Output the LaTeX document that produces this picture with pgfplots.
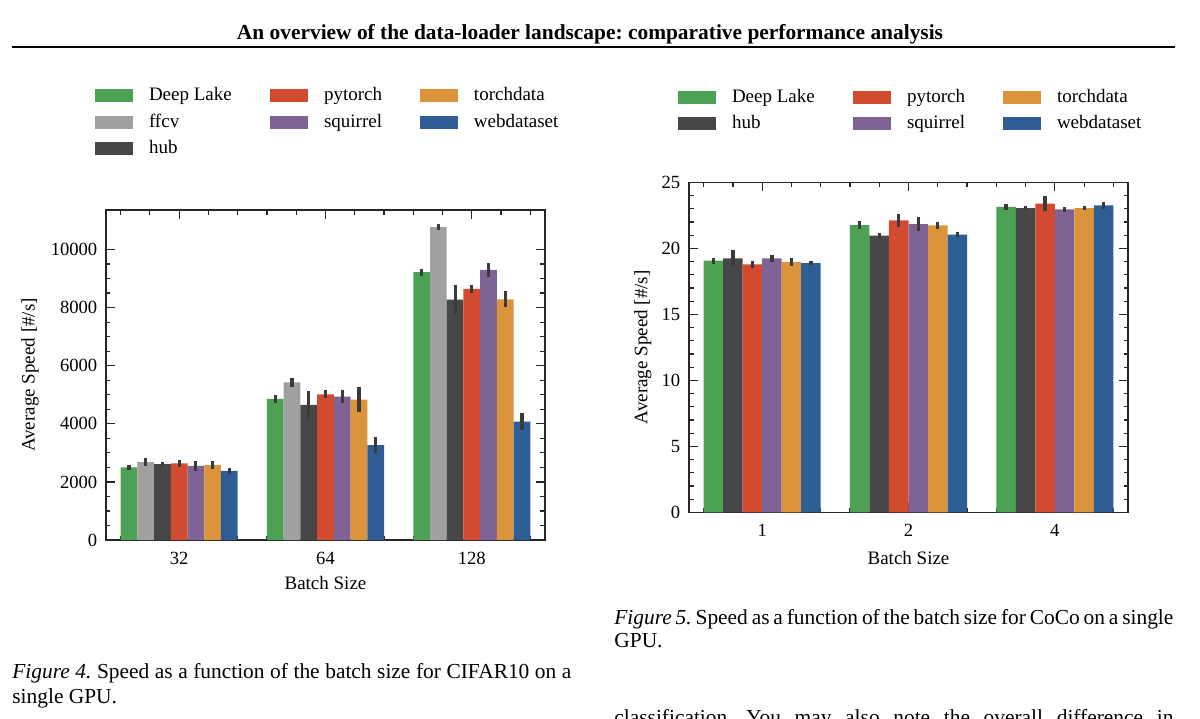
\documentclass[border=0pt]{standalone}
\usepackage{fontspec}
\setmainfont{Liberation Serif}
\usepackage{pgfplots}
\usepackage{pgfplotstable}
\pgfplotsset{compat=1.18}

\definecolor{cA}{HTML}{4CA155}
\definecolor{cB}{HTML}{A0A0A0}
\definecolor{cC}{HTML}{474747}
\definecolor{cD}{HTML}{D24A2F}
\definecolor{cE}{HTML}{7F6394}
\definecolor{cF}{HTML}{DB943B}
\definecolor{cG}{HTML}{2F5E94}
\definecolor{cErr}{HTML}{3A3A3A}

% CIFAR10: batch sizes 32, 64, 128 at x = 0, 1, 2
\pgfplotstableread{
x  dl    dle  ffcv   ffcve  hub   hube  pt    pte  sq    sqe  td    tde  wd    wde
0  2497  80   2680   126    2612  80    2635  115  2554  180  2577  137  2383  97
1  4857  143  5430   149    4651  481   5017  143  4937  229  4834  418  3265  269
2  9221  120  10768  103    8271  504   8649  132  9301  240  8282  275  4078  280
}\cifar

% CoCo: batch sizes 1, 2, 4 at x = 0, 1, 2
\pgfplotstableread{
x  dl     dle   hub    hube  pt     pte   sq     sqe   td     tde   wd     wde
0  19.06  0.24  19.24  0.60  18.78  0.24  19.24  0.25  18.98  0.30  18.88  0.15
1  21.76  0.32  20.97  0.18  22.11  0.52  21.83  0.53  21.73  0.28  21.04  0.18
2  23.13  0.23  23.05  0.13  23.38  0.58  22.95  0.20  23.05  0.18  23.26  0.25
}\coco

\newcommand\lblfont{\fontsize{9.5}{11}\selectfont}
\newcommand\capfont{\fontsize{10.7}{12.5}\selectfont}

\pgfplotsset{
  legend image code/.code={\fill[#1] (0pt,-3.25pt) rectangle (19pt,3.25pt);},
  mybar/.style={ybar, fill=#1, draw=none, forget plot},
  myerr/.style={draw=none, mark=none, forget plot,
    error bars/y dir=both, error bars/y explicit, error bars/error mark=none,
    error bars/error bar style={line width=1.6pt, draw=cErr, solid}},
  myaxis/.style={
    scale only axis, width=219.5pt, height=165pt,
    xmin=-0.5, xmax=2.5, ymin=0,
    xtick={0,1,2},
    minor xtick={-0.4,-0.2,0.2,0.4,0.6,0.8,1.2,1.4,1.6,1.8,2.2,2.4},
    tick align=inside, tick pos=both,
    major tick length=4.5pt, minor tick length=2.25pt,
    axis line style={line width=0.8pt, draw=black!85},
    every tick/.style={draw=black!85, line width=0.6pt},
    tick label style={font=\fontsize{9.3}{10}\selectfont},
    xticklabel style={yshift=-2.75pt},
    yticklabel style={xshift=-1pt, /pgf/number format/1000 sep={}},
    /pgf/number format/assume math mode=true,
    scaled y ticks=false,
    xlabel={Batch Size}, ylabel={Average Speed [\#/s]},
    legend style={draw=none, fill=none, inner sep=0pt, outer sep=0pt,
      anchor=north west, legend cell align=left,
      column sep=8pt, row sep=4.35pt,
      nodes={inner sep=0pt, text height=7pt, text depth=2pt,
             font=\lblfont}},
    legend columns=3,
  }
}

\begin{document}
\frenchspacing
\lblfont
\begin{tikzpicture}
\useasboundingbox (0,0) rectangle (600pt,-359pt);
\clip (0,0) rectangle (600pt,-359pt);

\node[anchor=base, font=\capfont\bfseries] at (295pt,-19.5pt)
  {An overview of the data-loader landscape: comparative performance analysis};
\draw[line width=1.3pt] (6pt,-23.5pt) -- (587.5pt,-23.5pt);

% ---------- Figure 4: CIFAR10 ----------
\begin{axis}[myaxis, at={(53pt,-270pt)}, anchor=south west,
  ymax=11360, ytick={0,2000,...,10000}, minor y tick num=3,
  xticklabels={32,64,128},
  bar width=0.1142857,
  every axis y label/.style={at={(axis description cs:-0.173,0.5)}, rotate=90, anchor=center, font=\lblfont},
  every axis x label/.style={at={(axis description cs:0.5,-0.130)}, anchor=center, font=\lblfont},
  legend style={at={(-0.02506,1.3743)}},
]
\addplot[mybar=cA, bar shift=-0.342857] table[x=x, y=dl]   {\cifar};
\addplot[mybar=cB, bar shift=-0.228571] table[x=x, y=ffcv] {\cifar};
\addplot[mybar=cC, bar shift=-0.114286] table[x=x, y=hub]  {\cifar};
\addplot[mybar=cD, bar shift=0]         table[x=x, y=pt]   {\cifar};
\addplot[mybar=cE, bar shift=0.114286]  table[x=x, y=sq]   {\cifar};
\addplot[mybar=cF, bar shift=0.228571]  table[x=x, y=td]   {\cifar};
\addplot[mybar=cG, bar shift=0.342857]  table[x=x, y=wd]   {\cifar};
\addplot[myerr] table[x expr=\thisrow{x}-0.342857, y=dl,   y error=dle]   {\cifar};
\addplot[myerr] table[x expr=\thisrow{x}-0.228571, y=ffcv, y error=ffcve] {\cifar};
\addplot[myerr] table[x expr=\thisrow{x}-0.114286, y=hub,  y error=hube]  {\cifar};
\addplot[myerr] table[x expr=\thisrow{x},          y=pt,   y error=pte]   {\cifar};
\addplot[myerr] table[x expr=\thisrow{x}+0.114286, y=sq,   y error=sqe]   {\cifar};
\addplot[myerr] table[x expr=\thisrow{x}+0.228571, y=td,   y error=tde]   {\cifar};
\addplot[myerr] table[x expr=\thisrow{x}+0.342857, y=wd,   y error=wde]   {\cifar};
\addlegendimage{fill=cA, draw=none}\addlegendentry{\makebox[52.5pt][l]{Deep Lake}}
\addlegendimage{fill=cD, draw=none}\addlegendentry{\makebox[40pt][l]{pytorch}}
\addlegendimage{fill=cF, draw=none}\addlegendentry{torchdata}
\addlegendimage{fill=cB, draw=none}\addlegendentry{\makebox[52.5pt][l]{ffcv}}
\addlegendimage{fill=cE, draw=none}\addlegendentry{\makebox[40pt][l]{squirrel}}
\addlegendimage{fill=cG, draw=none}\addlegendentry{webdataset}
\addlegendimage{fill=cC, draw=none}\addlegendentry{\makebox[52.5pt][l]{hub}}
\end{axis}

% ---------- Figure 5: CoCo ----------
\begin{axis}[myaxis, at={(344.5pt,-256.15pt)}, anchor=south west,
  ymax=25, ytick={0,5,...,25}, minor y tick num=4,
  xticklabels={1,2,4},
  bar width=0.1333333,
  every axis y label/.style={at={(axis description cs:-0.105,0.5)}, rotate=90, anchor=center, font=\lblfont},
  every axis x label/.style={at={(axis description cs:0.5,-0.137)}, anchor=center, font=\lblfont},
  legend style={at={(-0.02506,1.2856)}},
]
\addplot[mybar=cA, bar shift=-0.333333] table[x=x, y=dl]  {\coco};
\addplot[mybar=cC, bar shift=-0.2]      table[x=x, y=hub] {\coco};
\addplot[mybar=cD, bar shift=-0.066667] table[x=x, y=pt]  {\coco};
\addplot[mybar=cE, bar shift=0.066667]  table[x=x, y=sq]  {\coco};
\addplot[mybar=cF, bar shift=0.2]       table[x=x, y=td]  {\coco};
\addplot[mybar=cG, bar shift=0.333333]  table[x=x, y=wd]  {\coco};
\addplot[myerr] table[x expr=\thisrow{x}-0.333333, y=dl,  y error=dle]  {\coco};
\addplot[myerr] table[x expr=\thisrow{x}-0.2,      y=hub, y error=hube] {\coco};
\addplot[myerr] table[x expr=\thisrow{x}-0.066667, y=pt,  y error=pte]  {\coco};
\addplot[myerr] table[x expr=\thisrow{x}+0.066667, y=sq,  y error=sqe]  {\coco};
\addplot[myerr] table[x expr=\thisrow{x}+0.2,      y=td,  y error=tde]  {\coco};
\addplot[myerr] table[x expr=\thisrow{x}+0.333333, y=wd,  y error=wde]  {\coco};
\addlegendimage{fill=cA, draw=none}\addlegendentry{\makebox[52.5pt][l]{Deep Lake}}
\addlegendimage{fill=cD, draw=none}\addlegendentry{\makebox[40pt][l]{pytorch}}
\addlegendimage{fill=cF, draw=none}\addlegendentry{torchdata}
\addlegendimage{fill=cC, draw=none}\addlegendentry{\makebox[52.5pt][l]{hub}}
\addlegendimage{fill=cE, draw=none}\addlegendentry{\makebox[40pt][l]{squirrel}}
\addlegendimage{fill=cG, draw=none}\addlegendentry{webdataset}
\end{axis}

% ---------- captions ----------
\node[anchor=base west, inner sep=0pt, font=\capfont] at (307pt,-312pt)
  {\makebox[279.5pt][s]{\textit{Figure 5.} Speed as a function of the batch size for CoCo on a single}};
\node[anchor=base west, inner sep=0pt, font=\capfont] at (307pt,-323.5pt) {GPU.};
\node[anchor=base west, inner sep=0pt, font=\capfont] at (6pt,-339pt)
  {\makebox[279.5pt][s]{\textit{Figure 4.} Speed as a function of the batch size for CIFAR10 on a}};
\node[anchor=base west, inner sep=0pt, font=\capfont] at (6pt,-351.5pt) {single GPU.};
\node[anchor=base west, inner sep=0pt, font=\capfont] at (307pt,-362pt)
  {\makebox[279.5pt][s]{classification. You may also note the overall difference in}};
\end{tikzpicture}
\end{document}
